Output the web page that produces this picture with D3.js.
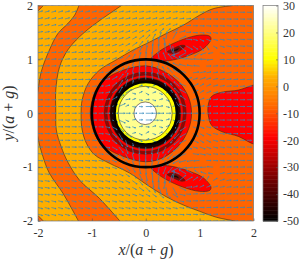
<!DOCTYPE html>
<html>
<head>
<meta charset="utf-8">
<script src="https://cdn.jsdelivr.net/npm/d3@7"></script>
<style>
body { margin: 0; background: #fff; }
text { font-family: "Liberation Serif", serif; fill: #333; }
</style>
</head>
<body>
<svg id="chart" width="300" height="261"></svg>
<script>
// contour lines, in x/(a+g), y/(a+g)
var bandLeftA = [[-1.24,2],[-1.32,1.82],[-1.45,1.66],[-1.63,1.48],[-1.79,1.17],[-1.94,0.77],[-2,0.43],[-2.06,0],[-2,-0.46],[-1.91,-0.8],[-1.79,-1.11],[-1.54,-1.48],[-1.38,-1.76],[-1.25,-2]];
var bandLeftB = [[-0.45,2],[-0.67,1.85],[-0.98,1.63],[-1.23,1.42],[-1.45,1.17],[-1.6,0.86],[-1.67,0.43],[-1.67,0.06],[-1.66,-0.31],[-1.57,-0.62],[-1.45,-0.9],[-1.23,-1.24],[-0.86,-1.58],[-0.48,-2]];
var cornerTop = [[-2,1.9],[-1.9,2]];
var cornerBottom = [[-2,-1.9],[-1.9,-2]];
var innerContour = [[1.62,2],[1.25,1.94],[1,1.82],[0.69,1.63],[0.38,1.48],[0.07,1.32],[-0.24,1.17],[-0.55,0.99],[-0.86,0.8],[-1.07,0.55],[-1.18,0.25],[-1.2,-0.03],[-1.18,-0.31],[-1.1,-0.56],[-0.95,-0.77],[-0.67,-0.93],[-0.3,-1.11],[0.07,-1.36],[0.38,-1.55],[0.69,-1.7],[1,-1.82],[1.31,-1.93],[1.66,-2]];
var rightLobe = [[2.05,0.54],[1.93,0.5],[1.72,0.43],[1.41,0.39],[1.22,0.31],[1.16,0.15],[1.16,-0.03],[1.22,-0.22],[1.41,-0.34],[1.72,-0.43],[1.97,-0.56],[2.05,-0.58]];
var sideLobe = [[0.11,1.02],[0.2,1.11],[0.38,1.23],[0.69,1.37],[1,1.45],[1.19,1.43],[1.21,1.37],[1.07,1.2],[0.82,1.08],[0.51,0.99],[0.26,0.97]];
var sideLobeInner = [[0.4,1.14],[0.51,1.2],[0.66,1.26],[0.73,1.25],[0.66,1.18],[0.51,1.11]];
var sideLobeCore = [[0.47,1.16],[0.55,1.19],[0.62,1.21],[0.58,1.16]];
var redRing = [[0.85,0],[0.8,0.28],[0.63,0.56],[0.33,0.78],[0,0.88],[-0.42,0.8],[-0.72,0.65],[-0.91,0.46],[-1,0.22],[-1.03,0],[-1,-0.22],[-0.91,-0.46],[-0.72,-0.65],[-0.42,-0.8],[0,-0.9],[0.33,-0.82],[0.63,-0.58],[0.8,-0.28]];

// band values (colorbar units)
var baseValue = 3;
var orangeValue = -8;
var redValue = -19;
var lobeInnerValue = -32;
var lobeCoreValue = -46;
var ringRadii = [0.76, 0.71, 0.66, 0.58, 0.5, 0.21];
var ringValues = [-30, -19, -46, 10, 21, 30];
var thickRadii = [1, 0.58];

// colormap stops, bottom to top of the colorbar
var cmapValues = [-50, -35, -19, -8, 3, 10, 21, 30];
var cmapColors = ["#000000", "#700000", "#ff0000", "#ff6400", "#ffae00", "#ffff00", "#ffff90", "#ffffff"];
var axisTicks = [-2, -1, 0, 1, 2];
var barTicks = [30, 20, 10, 0, -10, -20, -30, -40, -50];

// quiver: angle in degrees, y = 2 down to 0 (lower half is the mirror), x = -2..2 by 0.125
var gridX = [-2,-1.875,-1.75,-1.625,-1.5,-1.375,-1.25,-1.125,-1,-0.875,-0.75,-0.625,-0.5,-0.375,-0.25,-0.125,0,0.125,0.25,0.375,0.5,0.625,0.75,0.875,1,1.125,1.25,1.375,1.5,1.625,1.75,1.875,2];
var gridY = [2,1.875,1.75,1.625,1.5,1.375,1.25,1.125,1,0.875,0.75,0.625,0.5,0.375,0.25,0.125,0];
var arrowAngles = [
[16,16,16,15,15,15,14,14,14,13,13,12,12,11,10,10,10,9,8,7,6,6,5,4,3,2,2,1,0,0,0,-1,-1],
[15,15,15,15,14,14,14,14,13,13,13,12,12,11,11,10,10,10,9,9,8,7,5,4,2,1,0,0,-1,-1,-1,-2,-2],
[14,14,14,14,14,13,13,13,13,13,13,13,12,12,12,12,12,13,14,14,12,9,6,3,0,-1,-2,-2,-2,-3,-3,-3,-3],
[13,13,13,13,13,13,13,13,13,13,13,14,14,14,15,16,18,20,22,22,18,12,5,0,-3,-4,-4,-4,-4,-4,-4,-4,-3],
[11,11,11,12,12,12,12,12,13,13,14,15,16,18,20,24,28,34,40,40,30,15,3,-4,-8,-9,-8,-7,-6,-5,-5,-4,-4],
[10,10,10,10,11,11,11,12,12,13,14,16,18,22,28,36,46,60,75,80,60,25,-5,-15,-25,-22,-14,-10,-8,-6,-5,-4,-4],
[9,9,9,9,9,10,10,11,11,12,14,17,21,27,36,50,66,80,95,105,-80,-40,-30,-35,-50,-60,-30,-16,-10,-7,-5,-4,-3],
[7,7,7,8,8,8,9,9,10,12,14,18,24,34,48,64,78,88,96,100,110,-160,-150,-150,-145,-160,-170,-15,-8,-5,-4,-3,-2],
[6,6,6,6,7,7,7,8,9,10,13,18,27,42,60,76,86,94,102,112,130,150,165,172,175,178,-175,-3,-3,-2,-2,-1,-1],
[5,5,5,5,5,5,6,6,7,9,12,20,34,52,70,82,90,98,108,122,140,155,165,170,175,2,4,4,3,3,2,1,1],
[4,4,4,4,4,4,4,5,6,8,12,24,44,62,76,85,91,97,106,120,136,150,160,8,12,12,8,7,6,5,4,3,2],
[3,3,3,3,3,3,3,3,4,6,12,30,52,70,80,86,91,96,104,116,130,145,20,16,20,20,12,9,7,5,4,3,2],
[2,2,2,2,2,2,2,2,3,5,14,36,58,74,80,20,-25,30,-20,110,126,140,155,25,30,25,14,9,6,4,3,2,2],
[2,2,2,2,1,1,1,1,2,4,14,40,60,30,-15,25,-30,20,-25,25,120,135,150,30,30,22,12,7,4,3,2,1,1],
[1,1,1,1,1,1,1,1,1,3,12,30,45,10,20,-10,5,-15,15,-20,20,125,145,24,20,12,6,3,2,1,1,1,0],
[1,1,1,0,0,0,0,0,0,1,6,20,25,25,-10,-3,0,3,10,-15,15,130,160,12,8,4,2,1,1,0,0,0,0],
[0,0,0,0,0,0,0,0,0,0,0,0,0,0,0,0,0,0,0,0,0,0,0,0,0,0,0,0,0,0,0,0,0]
];
// arrow length, one digit per grid point
var arrowLengths = [
"444444444444444444444444444444444",
"444444444444444444444444444444444",
"444444444444444444444444444444444",
"444444444444444444444444444444444",
"444444444444444444555544444444444",
"444444444444444555667654444444444",
"444444444444445556778765544444444",
"444444444444445667788776554444444",
"444444444444455666666666555444444",
"444444444444556666666665544444444",
"444444444445666666666665544444444",
"444444444445666666666654544444444",
"444444444445665333333665444444444",
"444444444445663333333665444444444",
"444444444445643333333665444444444",
"444444444445633355333565444444444",
"444444444445544466444554444444444"
];

var svg = d3.select("#chart");
var plotLeft = 38, plotRight = 253.5, plotTop = 5.5, plotBottom = 221;
var x = d3.scaleLinear().domain([-2, 2]).range([plotLeft, plotRight]);
var y = d3.scaleLinear().domain([-2, 2]).range([plotBottom, plotTop]);
var color = d3.scaleLinear().domain(cmapValues).range(cmapColors);
var unit = x(1) - x(0);

var line = d3.line().x(function (d) { return x(d[0]); }).y(function (d) { return y(d[1]); }).curve(d3.curveCatmullRom);
var closedLine = d3.line().x(function (d) { return x(d[0]); }).y(function (d) { return y(d[1]); }).curve(d3.curveCatmullRomClosed);
var straight = d3.line().x(function (d) { return x(d[0]); }).y(function (d) { return y(d[1]); });

svg.append("clipPath").attr("id", "plotClip").append("rect")
    .attr("x", plotLeft).attr("y", plotTop)
    .attr("width", plotRight - plotLeft).attr("height", plotBottom - plotTop);

var plot = svg.append("g").attr("clip-path", "url(#plotClip)");
var contourColor = "#3a2a1a";

function mirror(pts) {
    return pts.map(function (p) { return [p[0], -p[1]]; });
}
function addShape(d, value) {
    plot.append("path").attr("d", d).attr("fill", color(value))
        .attr("stroke", contourColor).attr("stroke-width", 0.6);
}
function addEdge(pts) {
    plot.append("path").attr("d", line(pts)).attr("fill", "none")
        .attr("stroke", contourColor).attr("stroke-width", 0.6);
}

plot.append("rect").attr("x", plotLeft).attr("y", plotTop)
    .attr("width", plotRight - plotLeft).attr("height", plotBottom - plotTop)
    .attr("fill", color(baseValue));

// left band, no outline on the closing sides
plot.append("path")
    .attr("d", line(bandLeftA) + "L" + line(bandLeftB.slice().reverse()).slice(1) + "Z")
    .attr("fill", color(orangeValue));
addEdge(bandLeftA);
addEdge(bandLeftB);
[cornerTop, cornerBottom].forEach(function (c) {
    var corner = [c[0], c[1], [c[0][0], c[1][1]]];
    plot.append("path").attr("d", straight(corner) + "Z").attr("fill", color(orangeValue));
    addEdge(c);
});

// everything to the right of the inner contour
plot.append("path")
    .attr("d", line(innerContour) + "L" + x(2.1) + "," + y(-2.1) + "L" + x(2.1) + "," + y(2.1) + "Z")
    .attr("fill", color(orangeValue));
addEdge(innerContour);

plot.append("path").attr("d", line(rightLobe) + "Z").attr("fill", color(redValue));
addEdge(rightLobe);

[sideLobe, mirror(sideLobe)].forEach(function (s) { addShape(closedLine(s), redValue); });
[sideLobeInner, mirror(sideLobeInner)].forEach(function (s) { addShape(closedLine(s), lobeInnerValue); });
[sideLobeCore, mirror(sideLobeCore)].forEach(function (s) { addShape(closedLine(s), lobeCoreValue); });

addShape(closedLine(redRing), redValue);

plot.selectAll(".ring")
    .data(ringRadii)
    .enter()
    .append("circle")
    .attr("class", "ring")
    .attr("cx", x(-0.01))
    .attr("cy", y(0))
    .attr("r", function (d) { return d * unit; })
    .attr("fill", function (d, i) { return color(ringValues[i]); })
    .attr("stroke", contourColor)
    .attr("stroke-width", 0.6);

// quiver
var arrows = [];
gridY.forEach(function (gy, row) {
    gridX.forEach(function (gx, col) {
        var a = {x: gx, y: gy, angle: arrowAngles[row][col], len: +arrowLengths[row][col] * 0.022};
        arrows.push(a);
        if (gy > 0) arrows.push({x: gx, y: -gy, angle: -a.angle, len: a.len});
    });
});
var quiver = plot.append("g").attr("stroke", "#2f88bd").attr("stroke-width", 0.7).attr("fill", "none");
quiver.selectAll("path")
    .data(arrows)
    .enter()
    .append("path")
    .attr("d", function (d) {
        var t = d.angle * Math.PI / 180;
        var x0 = x(d.x), y0 = y(d.y);
        var px = d.len * unit;
        var x1 = x0 + px * Math.cos(t), y1 = y0 - px * Math.sin(t);
        var h = 1.2;
        return "M" + x0 + "," + y0 + "L" + x1 + "," + y1 +
            "M" + (x1 - h * Math.cos(t - 0.45)) + "," + (y1 + h * Math.sin(t - 0.45)) + "L" + x1 + "," + y1 +
            "L" + (x1 - h * Math.cos(t + 0.45)) + "," + (y1 + h * Math.sin(t + 0.45));
    });

plot.selectAll(".thick")
    .data(thickRadii)
    .enter()
    .append("circle")
    .attr("class", "thick")
    .attr("cx", x(0))
    .attr("cy", y(0))
    .attr("r", function (d) { return d * unit; })
    .attr("fill", "none")
    .attr("stroke", "#000")
    .attr("stroke-width", 2.6);

// axes
var fmt = function (d) { return d; };
var gx = svg.append("g").attr("transform", "translate(0," + plotBottom + ")")
    .call(d3.axisBottom(x).tickValues(axisTicks).tickFormat(fmt).tickSizeInner(-2.5).tickSizeOuter(0));
var gy = svg.append("g").attr("transform", "translate(" + plotLeft + ",0)")
    .call(d3.axisLeft(y).tickValues(axisTicks).tickFormat(fmt).tickSizeInner(-2.5).tickSizeOuter(0));
gx.selectAll("text").attr("dy", 0).attr("y", 16).style("font-size", "12px").style("font-family", "'Liberation Serif'");
gy.selectAll("text").attr("x", -5).style("font-size", "12px").style("font-family", "'Liberation Serif'");
[gx, gy].forEach(function (g) {
    g.selectAll("line").attr("stroke", "#555").attr("stroke-width", 0.6);
    g.select(".domain").attr("stroke", "none");
});
svg.append("rect").attr("x", plotLeft).attr("y", plotTop)
    .attr("width", plotRight - plotLeft).attr("height", plotBottom - plotTop)
    .attr("fill", "none").attr("stroke", "#777").attr("stroke-width", 0.7);

// math style label: letters italic, the rest upright
function addMathLabel(el, letter) {
    var parts = [[letter, true], ["/(", false], ["a", true], [" + ", false], ["g", true], [")", false]];
    parts.forEach(function (p) {
        el.append("tspan").text(p[0]).attr("xml:space", "preserve")
            .style("white-space", "pre").style("font-style", p[1] ? "italic" : "normal");
    });
}
addMathLabel(svg.append("text").attr("x", 146).attr("y", 255).attr("text-anchor", "middle").style("font-size", "16px"), "x");
addMathLabel(svg.append("text").attr("transform", "translate(14,113) rotate(-90)").attr("text-anchor", "middle").style("font-size", "16px"), "y");

// colorbar
var barLeft = 263, barRight = 278;
var barY = d3.scaleLinear().domain([-50, 30]).range([plotBottom, plotTop]);
var barSteps = d3.range(-50, 30, 0.5);
svg.append("g").selectAll("rect")
    .data(barSteps)
    .enter()
    .append("rect")
    .attr("x", barLeft)
    .attr("width", barRight - barLeft)
    .attr("y", function (d) { return barY(d + 0.5); })
    .attr("height", function (d) { return barY(d) - barY(d + 0.5) + 0.5; })
    .attr("fill", function (d) { return color(d); });
var gBar = svg.append("g").attr("transform", "translate(" + barRight + ",0)")
    .call(d3.axisRight(barY).tickValues(barTicks).tickFormat(fmt).tickSizeInner(-2).tickSizeOuter(0));
gBar.selectAll("text").attr("x", 5).style("font-size", "12px").style("font-family", "'Liberation Serif'");
gBar.selectAll("line").attr("stroke", "#555").attr("stroke-width", 0.6);
gBar.select(".domain").attr("stroke", "none");
svg.append("rect").attr("x", barLeft).attr("y", plotTop)
    .attr("width", barRight - barLeft).attr("height", plotBottom - plotTop)
    .attr("fill", "none").attr("stroke", "#777").attr("stroke-width", 0.7);
</script>
</body>
</html>
